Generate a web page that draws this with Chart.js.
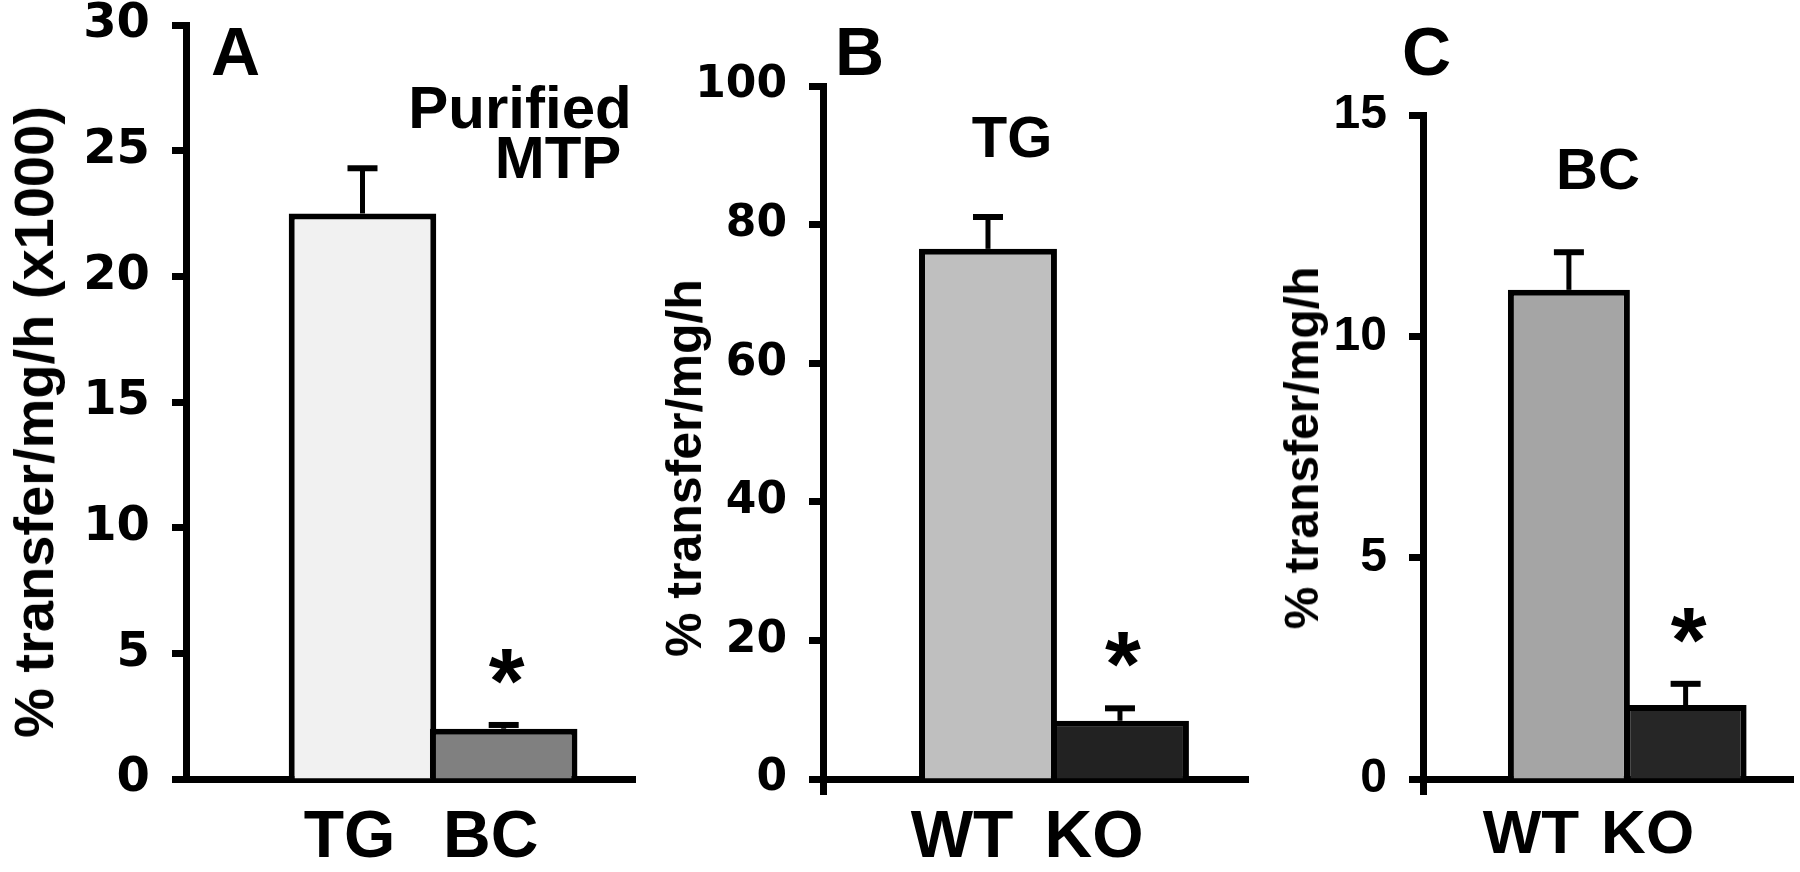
<!DOCTYPE html>
<html>
<head>
<meta charset="utf-8">
<script src="https://cdn.jsdelivr.net/npm/chart.js@4.4.0/dist/chart.umd.min.js"></script>
<style>
  html, body { margin: 0; padding: 0; background: #fff; }
  body { width: 1800px; height: 872px; position: relative; overflow: hidden;
         font-family: "Liberation Sans", Arial, sans-serif; font-weight: bold; color: #000; }
  canvas { position: absolute; top: 0; }
  .txt { position: absolute; white-space: nowrap; line-height: 1; }
  .mid { transform: translateX(-50%); }
  .ytitle { position: absolute; white-space: nowrap; line-height: 1;
            transform: translate(-50%, -50%) rotate(-90deg); }
</style>
</head>
<body>
<canvas id="chartA" style="left:0px" width="640" height="872"></canvas>
<canvas id="chartB" style="left:640px" width="620" height="872"></canvas>
<canvas id="chartC" style="left:1260px" width="540" height="872"></canvas>

<div class="txt" style="left:211px; top:17px; font-size:68px;">A</div>
<div class="txt" style="left:835px; top:17px; font-size:68px;">B</div>
<div class="txt" style="left:1402px; top:17px; font-size:68px;">C</div>

<div class="txt mid" style="left:520px; top:78px; font-size:60px;">Purified</div>
<div class="txt mid" style="left:558px; top:128px; font-size:60px;">MTP</div>
<div class="txt mid" style="left:1012px; top:108px; font-size:58px;">TG</div>
<div class="txt mid" style="left:1598px; top:140px; font-size:58px;">BC</div>

<div class="ytitle" style="left:34px; top:422px; font-size:56px;">% transfer/mg/h (x1000)</div>
<div class="ytitle" style="left:684px; top:468px; font-size:50px;">% transfer/mg/h</div>
<div class="ytitle" style="left:1302px; top:448px; font-size:48px;">% transfer/mg/h</div>

<script>
// panel A - purified MTP
const labelsA = ["TG", "BC"];
const meanA = [22.5, 2.0];
const semA = [1.8, 0.15];
const starA = [false, true];
const yTicksA = [0, 5, 10, 15, 20, 25, 30];

// panel B - TG transfer
const labelsB = ["WT", "KO"];
const meanB = [76.5, 8.4];
const semB = [4.6, 1.8];
const starB = [false, true];
const yTicksB = [0, 20, 40, 60, 80, 100];

// panel C - BC transfer
const labelsC = ["WT", "KO"];
const meanC = [11.05, 1.67];
const semC = [0.85, 0.48];
const starC = [false, true];
const yTicksC = [0, 5, 10, 15];

const FONT = '"Liberation Sans", Arial, sans-serif';
const WIDE = '"DejaVu Sans", "Liberation Sans", sans-serif';

// error bars + asterisks, placed with the chart's own scales
const errorBars = {
  id: "errorBars",
  afterDatasetsDraw(chart, args, opts) {
    const ctx = chart.ctx;
    const yScale = chart.scales.y;
    const meta = chart.getDatasetMeta(0);
    ctx.save();
    ctx.strokeStyle = "#000";
    ctx.fillStyle = "#000";
    meta.data.forEach((bar, i) => {
      const top = yScale.getPixelForValue(opts.mean[i] + opts.sem[i]);
      ctx.lineWidth = 5;
      ctx.beginPath();
      ctx.moveTo(bar.x, bar.y);
      ctx.lineTo(bar.x, top);
      ctx.stroke();
      ctx.lineWidth = 6;
      ctx.beginPath();
      ctx.moveTo(bar.x - 15, top);
      ctx.lineTo(bar.x + 15, top);
      ctx.stroke();
      if (opts.stars[i]) {
        ctx.font = "bold 92px " + FONT;
        ctx.textAlign = "center";
        ctx.textBaseline = "alphabetic";
        ctx.fillText("*", bar.x + 3, top - 12);
      }
    });
    ctx.restore();
  }
};

function makeChart(id, p) {
  const ctx = document.getElementById(id).getContext("2d");
  const W = ctx.canvas.width;
  const H = ctx.canvas.height;
  return new Chart(ctx, {
    type: "bar",
    data: {
      datasets: [{
        data: p.mean.map((v, i) => ({ x: i + 1, y: v })),
        backgroundColor: p.colors,
        borderColor: "#000",
        borderWidth: 6,
        borderSkipped: "start",
        barPercentage: 1.045,
        categoryPercentage: 1
      }]
    },
    options: {
      responsive: false,
      animation: false,
      events: [],
      layout: { padding: { top: p.top, right: W - p.right, left: 0, bottom: 0 } },
      plugins: {
        legend: { display: false },
        tooltip: { enabled: false },
        errorBars: { mean: p.mean, sem: p.sem, stars: p.stars }
      },
      scales: {
        x: {
          type: "linear",
          offset: false,
          z: 1,
          min: -0.25,
          max: p.xMax,
          afterBuildTicks: (s) => {
            const t = p.labels.map((l, i) => ({ value: i + 1 }));
            if (p.stub) t.unshift({ value: -0.25 });
            s.ticks = t;
          },
          afterFit: (s) => {
            s.height = H - p.zero;
            s.paddingLeft = 0;
            s.paddingRight = 0;
          },
          border: { display: true, color: "#000", width: 7 },
          grid: {
            display: p.stub,
            offset: false,
            drawOnChartArea: false,
            drawTicks: p.stub,
            tickLength: 16,
            tickWidth: 7,
            tickColor: (c) => (c.index === 0 ? "#000" : "rgba(0,0,0,0)")
          },
          ticks: {
            autoSkip: false,
            maxRotation: 0,
            padding: p.stub ? 4 : 20,
            labelOffset: p.labelShift,
            color: "#000",
            font: { family: FONT, weight: "bold", size: p.catSize },
            callback: (v) => p.labels[v - 1] || ""
          }
        },
        y: {
          z: 1,
          min: p.yTicks[0],
          max: p.yTicks[p.yTicks.length - 1],
          afterBuildTicks: (s) => { s.ticks = p.yTicks.map((v) => ({ value: v })); },
          afterFit: (s) => {
            s.width = p.axisX;
            s.paddingTop = 0;
            s.paddingBottom = 0;
          },
          border: { display: true, color: "#000", width: 7 },
          grid: {
            display: true,
            drawOnChartArea: false,
            drawTicks: true,
            tickLength: 14,
            tickWidth: 7,
            tickColor: "#000"
          },
          ticks: {
            padding: 22,
            color: "#000",
            font: { family: p.tickFont, weight: "bold", size: p.tickSize }
          }
        }
      }
    },
    plugins: [errorBars]
  });
}

makeChart("chartA", {
  labels: labelsA, mean: meanA, sem: semA, stars: starA, yTicks: yTicksA,
  colors: ["#f1f1f1", "#808080"],
  axisX: 186, top: 25, zero: 779, right: 635, xMax: 2.93, stub: false,
  catSize: 66, labelShift: -13, tickFont: WIDE, tickSize: 48
});
makeChart("chartB", {
  labels: labelsB, mean: meanB, sem: semB, stars: starB, yTicks: yTicksB,
  colors: ["#bfbfbf", "#222222"],
  axisX: 183, top: 86, zero: 779, right: 608, xMax: 2.97, stub: true,
  catSize: 66, labelShift: -26, tickFont: WIDE, tickSize: 44
});
makeChart("chartC", {
  labels: labelsC, mean: meanC, sem: semC, stars: starC, yTicks: yTicksC,
  colors: ["#a5a5a5", "#262626"],
  axisX: 163, top: 115, zero: 779, right: 533, xMax: 2.92, stub: true,
  catSize: 62, labelShift: -38, tickFont: FONT, tickSize: 48
});
</script>
</body>
</html>
